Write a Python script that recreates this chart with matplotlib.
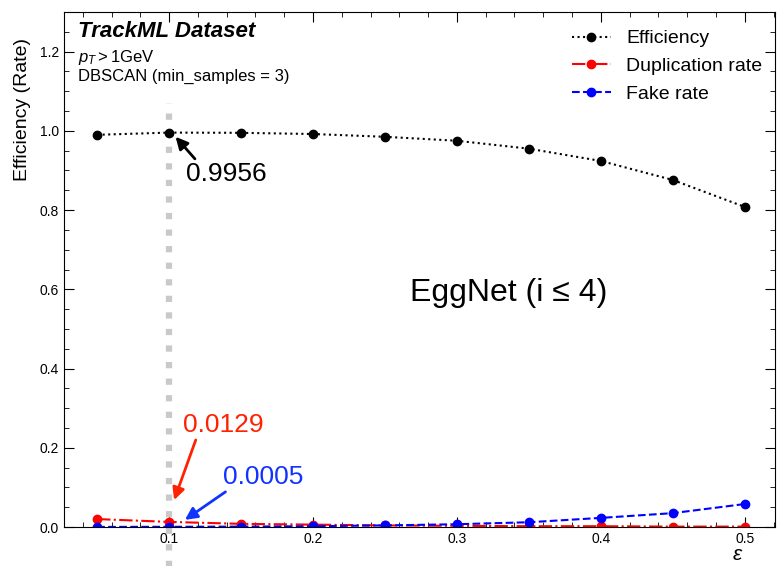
import matplotlib
matplotlib.use("Agg")
import matplotlib.pyplot as plt
from matplotlib.ticker import MultipleLocator

plt.rcParams['font.family'] = ['Liberation Sans', 'DejaVu Sans']
plt.rcParams['mathtext.fontset'] = 'custom'
plt.rcParams['mathtext.rm'] = 'Liberation Sans'
plt.rcParams['mathtext.it'] = 'Liberation Sans:italic'

eps = [0.05, 0.10, 0.15, 0.20, 0.25, 0.30, 0.35, 0.40, 0.45, 0.50]
efficiency = [0.990, 0.9956, 0.995, 0.992, 0.985, 0.975, 0.955, 0.924, 0.876, 0.808]
duplication = [0.020, 0.0129, 0.008, 0.006, 0.004, 0.003, 0.002, 0.002, 0.001, 0.001]
fake = [0.0002, 0.0005, 0.001, 0.002, 0.004, 0.007, 0.012, 0.023, 0.035, 0.058]

fig = plt.figure(figsize=(7.77, 5.66), dpi=100)
ax = fig.add_axes([0.0824, 0.0689, 0.915, 0.9099])

ax.plot(eps, efficiency, ':', color='black', marker='o', ms=6, lw=1.5, label='Efficiency')
ax.plot(eps, duplication, '-.', color='red', marker='o', ms=6, lw=1.5, label='Duplication rate')
ax.plot(eps, fake, '--', color='blue', marker='o', ms=6, lw=1.5, label='Fake rate')

ax.plot([0.1, 0.1], [-0.1, 1.07], ':', color='#c4c4c4', lw=4.5, alpha=0.9, clip_on=False, zorder=0)

ax.set_xlim(0.027, 0.521)
ax.set_ylim(0, 1.3)
ax.xaxis.set_major_locator(MultipleLocator(0.1))
ax.xaxis.set_minor_locator(MultipleLocator(0.02))
ax.yaxis.set_major_locator(MultipleLocator(0.2))
ax.yaxis.set_minor_locator(MultipleLocator(0.05))
ax.tick_params(which='both', direction='in', top=True, right=True, labelsize=10)
ax.tick_params(which='major', length=7)
ax.tick_params(which='minor', length=3.5)

ax.set_xlabel(r'$\varepsilon$', fontsize=15)
ax.xaxis.set_label_coords(0.948, -0.035)
ax.set_ylabel('Efficiency (Rate)', fontsize=14, loc='top')
ax.yaxis.set_label_coords(-0.047, 0.95)

ax.text(0.02, 0.983, 'TrackML Dataset', transform=ax.transAxes, fontsize=16,
        fontweight='bold', fontstyle='italic', va='top')
ax.text(0.02, 0.93, r'$p_T > 1$GeV', transform=ax.transAxes, fontsize=12, va='top')
ax.text(0.02, 0.89, 'DBSCAN (min_samples = 3)', transform=ax.transAxes, fontsize=12, va='top')

ax.text(0.625, 0.454, 'EggNet (i ≤ 4)', transform=ax.transAxes, fontsize=23,
        ha='center', va='center')

ax.annotate('0.9956', xy=(0.1045, 0.985), xytext=(0.1118, 0.892), fontsize=19,
            ha='left', va='center',
            arrowprops=dict(arrowstyle='-|>', color='black', lw=2, mutation_scale=18,
                            shrinkA=0, shrinkB=0, relpos=(0.14, 1.0)))
ax.annotate('0.0129', xy=(0.1035, 0.068), xytext=(0.1097, 0.257), fontsize=19,
            color='#ff2200', ha='left', va='center',
            arrowprops=dict(arrowstyle='-|>', color='#ff2200', lw=2, mutation_scale=18,
                            shrinkA=0, shrinkB=0, relpos=(0.17, 0.0)))
ax.annotate('0.0005', xy=(0.111, 0.018), xytext=(0.1375, 0.126), fontsize=19,
            color='#1133ff', ha='left', va='center',
            arrowprops=dict(arrowstyle='-|>', color='#1133ff', lw=2, mutation_scale=18,
                            shrinkA=0, shrinkB=0, relpos=(0.08, 0.0)))

ax.legend(loc='upper right', bbox_to_anchor=(1.0, 0.99), fontsize=14, frameon=False,
          handlelength=2.0, handletextpad=0.8, borderaxespad=0.25, labelspacing=0.52)

fig.savefig('out.png', dpi=100)
